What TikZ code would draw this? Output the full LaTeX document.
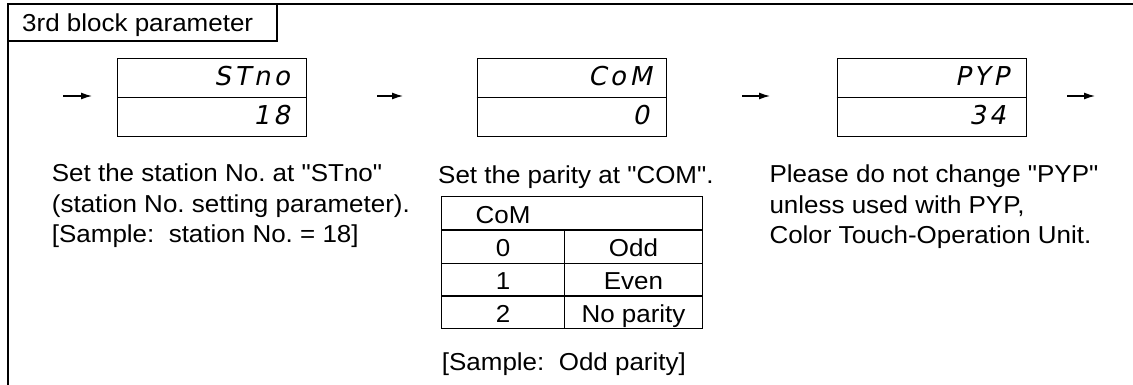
\documentclass[tikz,border=0pt]{standalone}
\usepackage{fontspec}
\setmainfont{Liberation Sans}[FakeStretch=1.06,Ligatures=TeXOff]
\newfontfamily\segfont{DejaVu Sans}[FakeSlant=0.2,LetterSpace=14]
\usetikzlibrary{arrows.meta}
\begin{document}
\frenchspacing
\begin{tikzpicture}[x=1pt,y=-1pt,
  txt/.style={font=\fontsize{24.5}{30}\selectfont, inner sep=0pt, anchor=base west},
  ctxt/.style={font=\fontsize{24.5}{30}\selectfont, inner sep=0pt, anchor=base},
  seg/.style={font=\segfont\fontsize{26}{30}\selectfont, inner sep=0pt, anchor=base east},
  frameline/.style={line width=1.8pt},
  boxline/.style={line width=1.3pt},
  disp/.style={draw, boxline, minimum width=189pt, minimum height=78pt, inner sep=0pt, anchor=north west},
  flow/.style={line width=1.3pt, -{Latex[length=11pt,width=7pt]}}]
\useasboundingbox (0,0) rectangle (1133,385);
% frame
\draw[frameline] (8,385) -- (8,4) -- (1133,4);
\draw[boxline] (8,4) rectangle (277,41);
\node[txt] (title) at (22,31.7) {3rd block parameter};
% displays
\node[disp] (d1) at (117,58) {};
\node[disp] (d2) at (476.7,58) {};
\node[disp] (d3) at (836.7,58) {};
\foreach \d in {d1,d2,d3} \draw[boxline] (\d.west) -- (\d.east);
\node[seg] (d1t) at (290,86) {STno};
\node[seg] (d1v) at (290,125) {18};
\node[seg] (d2t) at (652,86) {CoM};
\node[seg] (d2v) at (649,125) {0};
\node[seg] (d3t) at (1009,86) {PYP};
\node[seg] (d3v) at (1006,125) {34};
% arrows
\coordinate (a1s) at (63,96);   \coordinate (a1e) at (92,96);
\coordinate (a2s) at (377,96);  \coordinate (a2e) at (403,96);
\coordinate (a3s) at (742,96);  \coordinate (a3e) at (770,96);
\coordinate (a4s) at (1067,96); \coordinate (a4e) at (1095,96);
\draw[flow] (a1s) -- (a1e);
\draw[flow] (a2s) -- (a2e);
\draw[flow] (a3s) -- (a3e);
\draw[flow] (a4s) -- (a4e);
% descriptions
\node[txt] (p1a) at (51.7,182) {Set the station No. at "STno"};
\node[txt] (p1b) at (51.7,212) {(station No. setting parameter).};
\node[txt] (p1c) at (51.7,242) {[Sample:\ \ station No. = 18]};
\node[txt] (p2a) at (438,183) {Set the parity at "COM".};
\node[txt] (p3a) at (769.3,182.7) {Please do not change "PYP"};
\node[txt] (p3b) at (769.3,213) {unless used with PYP,};
\node[txt] (p3c) at (769.3,243.5) {Color Touch-Operation Unit.};
% table
\draw[boxline] (441.7,196.7) rectangle (702.7,328.3);
\draw[boxline] (441.7,230) -- (702.7,230);
\draw[boxline] (441.7,263.3) -- (702.7,263.3);
\draw[boxline] (441.7,296) -- (702.7,296);
\draw[boxline] (564.3,230) -- (564.3,328.3);
\node[ctxt] (th) at (503,223.3) {CoM};
\node[ctxt] (r1a) at (503,256.5) {0};
\node[ctxt] (r1b) at (633.5,256.5) {Odd};
\node[ctxt] (r2a) at (503,289.5) {1};
\node[ctxt] (r2b) at (633.5,289.5) {Even};
\node[ctxt] (r3a) at (503,322) {2};
\node[ctxt] (r3b) at (633.5,322) {No parity};
\node[txt] (samp) at (441.7,370) {[Sample:\ \ Odd parity]};
\end{tikzpicture}
\end{document}
